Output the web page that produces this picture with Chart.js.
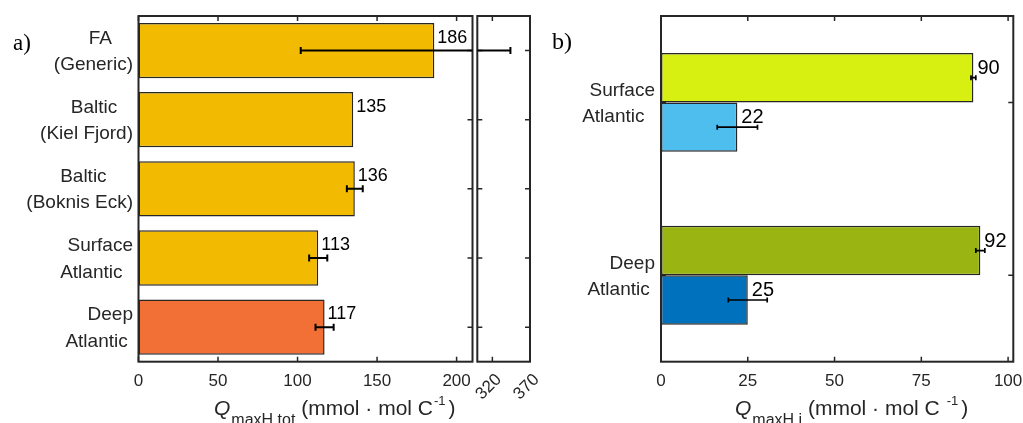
<!DOCTYPE html>
<html>
<head>
<meta charset="utf-8">
<script src="https://cdn.jsdelivr.net/npm/chart.js@4.4.1/dist/chart.umd.min.js"></script>
<style>
  body { margin: 0; background: #fff; }
  #wrap { position: relative; width: 1023px; height: 423px; overflow: hidden; font-family: 'Liberation Sans', Arial, sans-serif; }
  canvas { position: absolute; top: 0; }
  .panel { position: absolute; font-family: 'Liberation Serif', 'Times New Roman', serif; color: #000; }
  .xtitle { position: absolute; font-size: 21px; line-height: 21px; white-space: nowrap; color: #262626; }
  .xtitle sub { font-size: 16px; line-height: 0; vertical-align: baseline; position: relative; top: 10px; margin-left: 1px; }
  .xtitle sup { font-size: 13px; line-height: 0; vertical-align: baseline; position: relative; top: -10px; margin: 0 3px 0 1px; }
</style>
</head>
<body>
<div id="wrap">
  <canvas id="chartA" width="475" height="423" style="left:0"></canvas>
  <canvas id="chartBreak" width="120" height="423" style="left:440px"></canvas>
  <canvas id="chartB" width="478" height="423" style="left:545px"></canvas>
  <div class="panel" style="left:13px;top:30.7px;font-size:23px;line-height:23px">a)</div>
  <div class="panel" style="left:552px;top:28.9px;font-size:24px;line-height:24px">b)</div>
  <div class="xtitle" style="left:214px;top:397px"><i>Q</i><sub>maxH.tot</sub> (mmol · mol C<sup>-1</sup>)</div>
  <div class="xtitle" style="left:735px;top:397px"><i>Q</i><sub>maxH,i</sub> (mmol · mol C <sup>-1</sup>)</div>
</div>
<script>
// panel a data (trailing spaces keep the ragged label look of the original)
const categoriesA = [['FA    ', '(Generic)'], ['Baltic   ', '(Kiel Fjord)'], ['Baltic     ', '(Boknis Eck)'], ['Surface', 'Atlantic  '], ['Deep', 'Atlantic ']];
const valuesA = [186, 135, 136, 113, 117];
const errMinusA = [84, 0, 5, 5.7, 5.7];
const errPlusA = [158, 0, 5, 5.7, 5.7];
const colorsA = ['#F2BA00', '#F2BA00', '#F2BA00', '#F2BA00', '#F27036'];
const ticksA = [0, 50, 100, 150, 200];
const ticksBreak = [320, 370];

// panel b data
const categoriesB = [['Surface', 'Atlantic  '], ['Deep', 'Atlantic ']];
const totalB = [90, 92];
const errTotalB = [0.7, 1.3];
const colorsTotalB = ['#D8F011', '#9AB512'];
const indivB = [22, 25];
const errIndivB = [5.8, 5.6];
const colorsIndivB = ['#4DBEEE', '#0072BD'];
const ticksB = [0, 25, 50, 75, 100];

const INK = '#262626';
Chart.defaults.font.family = "'Liberation Sans', Arial, sans-serif";
Chart.defaults.animation = false;

// box around the axes + inward ticks, matlab style
const framePlugin = {
  id: 'frame',
  beforeDatasetsDraw(chart) {
    const { ctx, chartArea: a, scales: { x, y } } = chart;
    ctx.save();
    ctx.strokeStyle = INK;
    ctx.lineWidth = 1.5;
    ctx.beginPath();
    x.ticks.forEach((t, i) => {
      const px = x.getPixelForTick(i);
      ctx.moveTo(px, a.top); ctx.lineTo(px, a.top + 5);
      ctx.moveTo(px, a.bottom); ctx.lineTo(px, a.bottom - 5);
    });
    y.ticks.forEach((t, i) => {
      const py = y.getPixelForTick(i);
      ctx.moveTo(a.left, py); ctx.lineTo(a.left + 5, py);
      ctx.moveTo(a.right, py); ctx.lineTo(a.right - 5, py);
    });
    ctx.stroke();
    ctx.restore();
  },
  afterDatasetsDraw(chart) {
    const { ctx, chartArea: a } = chart;
    ctx.save();
    ctx.strokeStyle = INK;
    ctx.lineWidth = 2;
    ctx.strokeRect(a.left, a.top, a.right - a.left, a.bottom - a.top);
    ctx.restore();
  }
};

const errorBarPlugin = {
  id: 'errorBars',
  afterDatasetsDraw(chart, args, opts) {
    const { ctx, chartArea: a, scales: { x } } = chart;
    ctx.save();
    ctx.beginPath();
    ctx.rect(a.left, a.top, a.right - a.left, a.bottom - a.top);
    ctx.clip();
    ctx.strokeStyle = '#000';
    ctx.lineWidth = opts.width;
    chart.data.datasets.forEach((ds, i) => {
      chart.getDatasetMeta(i).data.forEach((bar, j) => {
        const lo = ds.errMinus[j], hi = ds.errPlus[j];
        if (!lo && !hi) return;
        const x1 = x.getPixelForValue(ds.data[j] - lo);
        const x2 = x.getPixelForValue(ds.data[j] + hi);
        ctx.beginPath();
        ctx.moveTo(x1, bar.y); ctx.lineTo(x2, bar.y);
        ctx.moveTo(x1, bar.y - opts.cap); ctx.lineTo(x1, bar.y + opts.cap);
        ctx.moveTo(x2, bar.y - opts.cap); ctx.lineTo(x2, bar.y + opts.cap);
        ctx.stroke();
      });
    });
    ctx.restore();
  }
};

const valueLabelPlugin = {
  id: 'valueLabels',
  afterDatasetsDraw(chart, args, opts) {
    if (!opts.show) return;
    const { ctx } = chart;
    ctx.save();
    ctx.font = opts.size + "px 'Liberation Sans', Arial, sans-serif";
    ctx.fillStyle = '#000';
    ctx.textAlign = 'left';
    ctx.textBaseline = 'middle';
    chart.data.datasets.forEach((ds, i) => {
      chart.getDatasetMeta(i).data.forEach((bar, j) => {
        ctx.fillText(String(ds.data[j]), bar.x + opts.dx, bar.y + opts.dy);
      });
    });
    ctx.restore();
  }
};

const noGrid = { display: false, drawTicks: false };

function barSet(values, colors, errMinus, errPlus, extra) {
  return Object.assign({
    data: values,
    backgroundColor: colors,
    borderColor: INK,
    borderWidth: 1.5,
    borderSkipped: false,
    errMinus: errMinus,
    errPlus: errPlus
  }, extra);
}

// panel a, main part of the broken axis
new Chart(document.getElementById('chartA'), {
  type: 'bar',
  data: {
    labels: categoriesA,
    datasets: [barSet(valuesA, colorsA, errMinusA, errPlusA, { barPercentage: 0.8, categoryPercentage: 1 })]
  },
  options: {
    indexAxis: 'y',
    responsive: false,
    layout: { padding: { left: 0, top: 16, right: 2.5, bottom: 0 } },
    plugins: {
      legend: { display: false },
      tooltip: { enabled: false },
      valueLabels: { show: true, size: 18, dx: 3, dy: -13 },
      errorBars: { width: 2, cap: 3.5 }
    },
    scales: {
      x: {
        min: 0, max: 210,
        afterBuildTicks: s => { s.ticks = ticksA.map(v => ({ value: v })); },
        grid: noGrid,
        border: { display: false },
        ticks: { padding: 9, font: { size: 17 }, color: INK, maxRotation: 0 },
        afterFit: s => { s.height = 61.3; s.paddingLeft = 0; s.paddingRight = 0; }
      },
      y: {
        grid: noGrid,
        border: { display: false },
        ticks: { padding: 5.5, font: { size: 19, lineHeight: 1.4 }, color: INK, labelOffset: 1 },
        afterFit: s => { s.width = 138.5; s.paddingTop = 0; s.paddingBottom = 0; }
      }
    }
  },
  plugins: [framePlugin, errorBarPlugin, valueLabelPlugin]
});

// panel a, the piece after the axis break
new Chart(document.getElementById('chartBreak'), {
  type: 'bar',
  data: {
    labels: categoriesA,
    datasets: [barSet(valuesA, colorsA, errMinusA, errPlusA, { barPercentage: 0.8, categoryPercentage: 1 })]
  },
  options: {
    indexAxis: 'y',
    responsive: false,
    layout: { padding: { left: 37.3, top: 16, right: 30, bottom: 0 } },
    plugins: {
      legend: { display: false },
      tooltip: { enabled: false },
      valueLabels: { show: false },
      errorBars: { width: 2, cap: 3.5 }
    },
    scales: {
      x: {
        min: 300, max: 370,
        afterBuildTicks: s => { s.ticks = ticksBreak.map(v => ({ value: v })); },
        grid: noGrid,
        border: { display: false },
        ticks: { padding: 8, font: { size: 17 }, color: INK, minRotation: 45, maxRotation: 45, labelOffset: 6.5 },
        afterFit: s => { s.height = 61.3; s.paddingLeft = 0; s.paddingRight = 0; }
      },
      y: {
        grid: noGrid,
        border: { display: false },
        ticks: { display: false },
        afterFit: s => { s.width = 0; s.paddingTop = 0; s.paddingBottom = 0; }
      }
    }
  },
  plugins: [framePlugin, errorBarPlugin]
});

// panel b
new Chart(document.getElementById('chartB'), {
  type: 'bar',
  data: {
    labels: categoriesB,
    datasets: [
      barSet(totalB, colorsTotalB, errTotalB, errTotalB, { barPercentage: 1, categoryPercentage: 0.572 }),
      barSet(indivB, colorsIndivB, errIndivB, errIndivB, { barPercentage: 1, categoryPercentage: 0.572 })
    ]
  },
  options: {
    indexAxis: 'y',
    responsive: false,
    layout: { padding: { left: 0, top: 16, right: 9.7, bottom: 0 } },
    plugins: {
      legend: { display: false },
      tooltip: { enabled: false },
      valueLabels: { show: true, size: 20, dx: 4, dy: -9.5 },
      errorBars: { width: 1.7, cap: 2.5 }
    },
    scales: {
      x: {
        min: 0, max: 101.5,
        afterBuildTicks: s => { s.ticks = ticksB.map(v => ({ value: v })); },
        grid: noGrid,
        border: { display: false },
        ticks: { padding: 9, font: { size: 17 }, color: INK, maxRotation: 0 },
        afterFit: s => { s.height = 61.3; s.paddingLeft = 0; s.paddingRight = 0; }
      },
      y: {
        grid: noGrid,
        border: { display: false },
        ticks: { padding: 6, font: { size: 19, lineHeight: 1.4 }, color: INK, labelOffset: 1.5 },
        afterFit: s => { s.width = 116; s.paddingTop = 0; s.paddingBottom = 0; }
      }
    }
  },
  plugins: [framePlugin, errorBarPlugin, valueLabelPlugin]
});
</script>
</body>
</html>
